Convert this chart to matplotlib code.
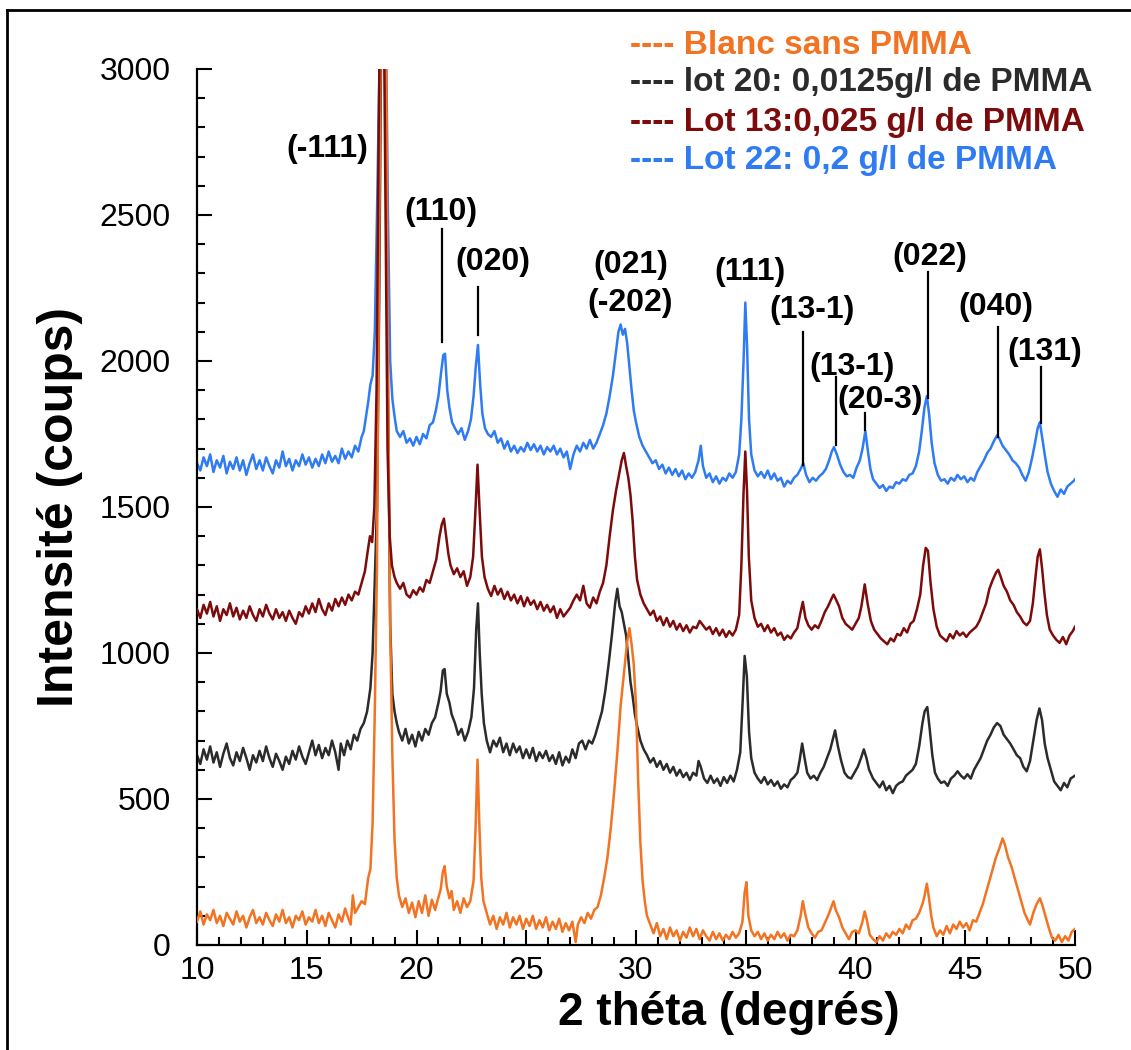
import matplotlib
matplotlib.use('Agg')
import matplotlib.pyplot as plt
from matplotlib.lines import Line2D
from matplotlib.ticker import MultipleLocator

plt.rcParams['font.family'] = ['Liberation Sans', 'DejaVu Sans']

# ---------------- data ----------------
series_labels = ["---- Blanc sans PMMA",
                 "---- lot 20: 0,0125g/l de PMMA",
                 "---- Lot 13:0,025 g/l de PMMA",
                 "---- Lot 22: 0,2 g/l de PMMA"]

blanc_pts = [
    (10.0, 80), (10.15, 115), (10.3, 70), (10.45, 105), (10.6, 85), (10.75, 120), (10.9, 75), (11.05, 100),
    (11.2, 65), (11.35, 110), (11.5, 90), (11.65, 70), (11.8, 115), (11.95, 80), (12.1, 100), (12.25, 60),
    (12.4, 95), (12.55, 120), (12.7, 75), (12.85, 95), (13.0, 70), (13.15, 110), (13.3, 85), (13.45, 65),
    (13.6, 105), (13.75, 80), (13.9, 120), (14.05, 75), (14.2, 95), (14.35, 60), (14.5, 100), (14.65, 85),
    (14.8, 115), (14.95, 70), (15.1, 95), (15.25, 80), (15.4, 120), (15.55, 75), (15.7, 100), (15.85, 65),
    (16.0, 110), (16.15, 85), (16.3, 60), (16.45, 105), (16.6, 80), (16.75, 125), (16.9, 90), (17.0, 70),
    (17.1, 170), (17.2, 110), (17.35, 130), (17.5, 150), (17.65, 140), (17.8, 230), (17.9, 260), (18.0, 420),
    (18.1, 800), (18.2, 1300), (18.3, 2400), (18.4, 3400), (18.5, 3800), (18.6, 3300), (18.7, 2000),
    (18.8, 1100), (18.9, 650), (19.0, 360), (19.1, 230), (19.2, 170), (19.35, 130), (19.5, 160), (19.65, 110),
    (19.8, 145), (19.95, 95), (20.1, 150), (20.25, 110), (20.4, 170), (20.55, 100), (20.7, 155), (20.85, 120),
    (20.95, 150), (21.1, 190), (21.2, 250), (21.28, 270), (21.38, 200), (21.5, 160), (21.6, 185), (21.7, 120),
    (21.85, 150), (22.0, 110), (22.15, 160), (22.3, 130), (22.45, 150), (22.6, 220), (22.7, 420), (22.78, 635),
    (22.86, 420), (22.95, 230), (23.05, 150), (23.2, 110), (23.35, 70), (23.5, 100), (23.65, 55), (23.8, 95),
    (23.95, 70), (24.1, 110), (24.25, 60), (24.4, 95), (24.55, 70), (24.7, 100), (24.85, 55), (25.0, 90),
    (25.15, 65), (25.3, 100), (25.45, 55), (25.6, 85), (25.75, 60), (25.9, 95), (26.05, 50), (26.2, 80),
    (26.35, 55), (26.5, 90), (26.65, 45), (26.8, 75), (26.95, 50), (27.1, 80), (27.25, 10), (27.35, 70),
    (27.5, 95), (27.65, 75), (27.8, 110), (27.95, 90), (28.1, 120), (28.25, 130), (28.4, 170), (28.55, 230),
    (28.7, 300), (28.85, 400), (29.0, 520), (29.15, 660), (29.3, 820), (29.45, 930), (29.6, 1040), (29.7, 1085),
    (29.8, 1030), (29.9, 960), (30.0, 820), (30.1, 560), (30.2, 350), (30.3, 220), (30.4, 150), (30.5, 100),
    (30.65, 70), (30.8, 40), (30.95, 75), (31.1, 30), (31.25, 55), (31.4, 20), (31.55, 60), (31.7, 30),
    (31.85, 50), (32.0, 15), (32.15, 45), (32.3, 25), (32.45, 60), (32.6, 30), (32.75, 55), (32.9, 20),
    (33.05, 50), (33.2, 30), (33.35, 15), (33.5, 45), (33.65, 20), (33.8, 40), (33.95, 15), (34.1, 35),
    (34.25, 20), (34.4, 45), (34.55, 25), (34.7, 40), (34.85, 80), (34.95, 180), (35.03, 215), (35.12, 100),
    (35.25, 50), (35.4, 30), (35.55, 45), (35.7, 20), (35.85, 40), (36.0, 15), (36.15, 35), (36.3, 20),
    (36.45, 45), (36.6, 25), (36.75, 40), (36.9, 15), (37.05, 35), (37.2, 30), (37.35, 50), (37.5, 100),
    (37.6, 150), (37.7, 110), (37.85, 60), (38.0, 40), (38.15, 25), (38.3, 45), (38.45, 50), (38.6, 75),
    (38.75, 100), (38.9, 130), (39.0, 150), (39.1, 120), (39.25, 95), (39.4, 60), (39.55, 40), (39.7, 20),
    (39.85, 45), (40.0, 50), (40.15, 40), (40.3, 75), (40.42, 115), (40.52, 85), (40.65, 35), (40.8, 20),
    (40.95, 10), (41.1, 30), (41.25, 15), (41.4, 40), (41.55, 25), (41.7, 45), (41.85, 35), (42.0, 55),
    (42.15, 40), (42.3, 70), (42.45, 55), (42.6, 85), (42.75, 90), (42.9, 110), (43.05, 140), (43.15, 170),
    (43.25, 210), (43.35, 160), (43.45, 100), (43.55, 60), (43.7, 30), (43.85, 50), (44.0, 35), (44.15, 65),
    (44.3, 40), (44.45, 70), (44.6, 55), (44.75, 80), (44.9, 60), (45.05, 75), (45.2, 50), (45.35, 85),
    (45.5, 80), (45.65, 110), (45.8, 140), (45.95, 180), (46.1, 220), (46.25, 260), (46.4, 300), (46.55, 330),
    (46.7, 365), (46.8, 345), (46.95, 300), (47.1, 270), (47.25, 230), (47.4, 190), (47.55, 150), (47.7, 110),
    (47.85, 85), (47.95, 70), (48.1, 110), (48.25, 140), (48.4, 160), (48.5, 140), (48.65, 100), (48.8, 60),
    (48.95, 25), (49.1, 15), (49.25, 35), (49.4, 10), (49.55, 30), (49.7, 15), (49.85, 45), (50.0, 55),
]

lot20_pts = [
    (10.0, 650), (10.15, 620), (10.3, 670), (10.45, 635), (10.6, 680), (10.75, 625), (10.9, 660), (11.05, 610),
    (11.2, 655), (11.35, 690), (11.5, 640), (11.65, 615), (11.8, 660), (11.95, 630), (12.1, 675), (12.25, 640),
    (12.4, 600), (12.55, 650), (12.7, 625), (12.85, 665), (13.0, 630), (13.15, 680), (13.3, 640), (13.45, 610),
    (13.6, 655), (13.75, 630), (13.9, 600), (14.05, 645), (14.2, 620), (14.35, 665), (14.5, 635), (14.65, 680),
    (14.8, 645), (14.95, 620), (15.1, 660), (15.25, 700), (15.4, 650), (15.55, 685), (15.7, 640), (15.85, 675),
    (16.0, 650), (16.15, 700), (16.3, 660), (16.45, 600), (16.55, 690), (16.7, 650), (16.85, 700), (17.0, 670),
    (17.15, 720), (17.3, 700), (17.45, 740), (17.6, 760), (17.75, 800), (17.9, 880), (18.0, 1000), (18.1, 1250),
    (18.2, 1500), (18.3, 2200), (18.4, 3200), (18.5, 3600), (18.6, 3000), (18.7, 1900), (18.8, 1100),
    (18.9, 860), (19.0, 800), (19.1, 760), (19.2, 730), (19.35, 700), (19.5, 740), (19.65, 690), (19.8, 720),
    (19.95, 680), (20.1, 730), (20.25, 700), (20.4, 740), (20.55, 720), (20.7, 760), (20.85, 780), (21.0, 830),
    (21.1, 870), (21.2, 940), (21.28, 945), (21.38, 860), (21.5, 830), (21.6, 790), (21.75, 760), (21.9, 720),
    (22.05, 740), (22.2, 700), (22.35, 730), (22.5, 780), (22.62, 880), (22.72, 1080), (22.8, 1170),
    (22.88, 1000), (22.97, 860), (23.07, 760), (23.2, 700), (23.35, 660), (23.5, 700), (23.65, 680),
    (23.8, 710), (23.95, 660), (24.1, 690), (24.25, 650), (24.4, 690), (24.55, 660), (24.7, 680), (24.85, 640),
    (25.0, 670), (25.15, 640), (25.3, 675), (25.45, 630), (25.6, 660), (25.75, 640), (25.9, 665), (26.05, 630),
    (26.2, 650), (26.35, 620), (26.5, 660), (26.65, 615), (26.8, 645), (26.95, 625), (27.1, 670), (27.25, 640),
    (27.4, 690), (27.55, 700), (27.7, 670), (27.85, 700), (28.0, 690), (28.15, 720), (28.3, 760), (28.45, 800),
    (28.6, 870), (28.75, 960), (28.9, 1060), (29.05, 1170), (29.15, 1220), (29.25, 1160), (29.35, 1140),
    (29.45, 1100), (29.55, 1060), (29.65, 980), (29.75, 900), (29.85, 850), (29.95, 790), (30.05, 750),
    (30.2, 700), (30.35, 670), (30.5, 650), (30.65, 625), (30.8, 640), (30.95, 610), (31.1, 630), (31.25, 600),
    (31.4, 620), (31.55, 590), (31.7, 610), (31.85, 580), (32.0, 600), (32.15, 575), (32.3, 590), (32.45, 565),
    (32.6, 590), (32.75, 580), (32.85, 630), (32.95, 610), (33.1, 570), (33.25, 555), (33.4, 580), (33.55, 555),
    (33.7, 570), (33.85, 545), (34.0, 575), (34.15, 555), (34.3, 580), (34.45, 560), (34.6, 600), (34.75, 660),
    (34.85, 820), (34.95, 990), (35.05, 920), (35.15, 730), (35.25, 640), (35.4, 590), (35.55, 570),
    (35.7, 555), (35.85, 575), (36.0, 550), (36.15, 565), (36.3, 545), (36.45, 560), (36.6, 535), (36.75, 550),
    (36.9, 540), (37.05, 565), (37.2, 575), (37.35, 590), (37.45, 630), (37.57, 690), (37.68, 640), (37.8, 590),
    (37.95, 570), (38.1, 580), (38.25, 565), (38.4, 590), (38.55, 610), (38.7, 640), (38.85, 670), (38.95, 700),
    (39.07, 735), (39.2, 680), (39.35, 630), (39.5, 590), (39.65, 575), (39.8, 570), (39.95, 590), (40.1, 610),
    (40.25, 640), (40.38, 670), (40.5, 640), (40.62, 600), (40.8, 570), (40.95, 555), (41.1, 540), (41.25, 560),
    (41.4, 530), (41.55, 545), (41.7, 520), (41.85, 545), (42.0, 555), (42.15, 560), (42.3, 580), (42.45, 590),
    (42.6, 600), (42.75, 620), (42.9, 680), (43.05, 760), (43.15, 800), (43.27, 815), (43.38, 740), (43.5, 650),
    (43.62, 590), (43.75, 570), (43.9, 555), (44.05, 560), (44.2, 545), (44.35, 570), (44.5, 580), (44.65, 595),
    (44.8, 580), (44.95, 570), (45.1, 585), (45.25, 570), (45.4, 600), (45.55, 620), (45.7, 640), (45.85, 670),
    (46.0, 700), (46.15, 720), (46.3, 745), (46.45, 760), (46.6, 750), (46.75, 720), (46.9, 705), (47.05, 690),
    (47.2, 670), (47.35, 650), (47.5, 640), (47.65, 610), (47.8, 595), (47.95, 630), (48.1, 700), (48.25, 770),
    (48.38, 810), (48.5, 770), (48.62, 690), (48.75, 640), (48.9, 600), (49.05, 560), (49.2, 545), (49.35, 530),
    (49.5, 555), (49.65, 540), (49.8, 570), (50.0, 580),
]

lot13_pts = [
    (10.0, 1150), (10.15, 1120), (10.3, 1165), (10.45, 1135), (10.6, 1175), (10.75, 1125), (10.9, 1160),
    (11.05, 1110), (11.2, 1150), (11.35, 1130), (11.5, 1170), (11.65, 1125), (11.8, 1155), (11.95, 1115),
    (12.1, 1145), (12.25, 1120), (12.4, 1160), (12.55, 1130), (12.7, 1110), (12.85, 1150), (13.0, 1125),
    (13.15, 1165), (13.3, 1135), (13.45, 1115), (13.6, 1150), (13.75, 1120), (13.9, 1140), (14.05, 1110),
    (14.2, 1145), (14.35, 1120), (14.5, 1100), (14.65, 1140), (14.8, 1125), (14.95, 1160), (15.1, 1135),
    (15.25, 1170), (15.4, 1140), (15.55, 1185), (15.7, 1150), (15.85, 1130), (16.0, 1170), (16.15, 1145),
    (16.3, 1185), (16.45, 1160), (16.6, 1190), (16.75, 1165), (16.9, 1200), (17.05, 1180), (17.2, 1210),
    (17.35, 1200), (17.5, 1240), (17.65, 1280), (17.78, 1350), (17.88, 1400), (17.98, 1380), (18.08, 1500),
    (18.18, 1900), (18.28, 2800), (18.38, 3500), (18.48, 3500), (18.58, 2600), (18.68, 1700), (18.78, 1400),
    (18.88, 1300), (19.0, 1260), (19.1, 1240), (19.25, 1220), (19.4, 1240), (19.55, 1200), (19.7, 1190),
    (19.85, 1215), (20.0, 1200), (20.15, 1225), (20.3, 1210), (20.45, 1250), (20.6, 1240), (20.75, 1280),
    (20.9, 1320), (21.05, 1400), (21.15, 1440), (21.25, 1460), (21.35, 1400), (21.45, 1340), (21.55, 1300),
    (21.7, 1270), (21.85, 1290), (22.0, 1260), (22.15, 1280), (22.3, 1230), (22.45, 1260), (22.58, 1330),
    (22.68, 1480), (22.78, 1645), (22.88, 1480), (22.98, 1330), (23.1, 1260), (23.25, 1220), (23.4, 1195),
    (23.55, 1230), (23.7, 1200), (23.85, 1220), (24.0, 1185), (24.15, 1210), (24.3, 1180), (24.45, 1200),
    (24.6, 1170), (24.75, 1195), (24.9, 1160), (25.05, 1190), (25.2, 1165), (25.35, 1180), (25.5, 1150),
    (25.65, 1175), (25.8, 1145), (25.95, 1165), (26.1, 1140), (26.25, 1160), (26.4, 1120), (26.55, 1150),
    (26.7, 1125), (26.85, 1140), (27.0, 1155), (27.15, 1180), (27.3, 1200), (27.45, 1180), (27.6, 1230),
    (27.75, 1170), (27.9, 1155), (28.05, 1190), (28.2, 1170), (28.35, 1210), (28.5, 1240), (28.65, 1300),
    (28.8, 1400), (28.95, 1490), (29.1, 1560), (29.25, 1620), (29.35, 1660), (29.45, 1685), (29.55, 1640),
    (29.65, 1600), (29.75, 1540), (29.85, 1450), (29.95, 1330), (30.05, 1250), (30.2, 1200), (30.35, 1170),
    (30.5, 1150), (30.65, 1130), (30.8, 1145), (30.95, 1110), (31.1, 1125), (31.25, 1095), (31.4, 1120),
    (31.55, 1090), (31.7, 1110), (31.85, 1080), (32.0, 1100), (32.15, 1075), (32.3, 1095), (32.45, 1070),
    (32.6, 1090), (32.75, 1085), (32.9, 1110), (33.05, 1095), (33.2, 1080), (33.35, 1090), (33.5, 1065),
    (33.65, 1085), (33.8, 1060), (33.95, 1080), (34.1, 1055), (34.25, 1075), (34.4, 1060), (34.55, 1080),
    (34.7, 1130), (34.8, 1300), (34.9, 1550), (34.98, 1690), (35.06, 1550), (35.14, 1330), (35.25, 1180),
    (35.4, 1120), (35.55, 1090), (35.7, 1100), (35.85, 1075), (36.0, 1095), (36.15, 1070), (36.3, 1085),
    (36.45, 1060), (36.6, 1070), (36.75, 1045), (36.9, 1060), (37.05, 1050), (37.2, 1070), (37.35, 1085),
    (37.47, 1130), (37.6, 1175), (37.72, 1120), (37.85, 1095), (38.0, 1080), (38.15, 1095), (38.3, 1085),
    (38.45, 1110), (38.6, 1140), (38.75, 1160), (38.9, 1185), (39.0, 1200), (39.1, 1185), (39.25, 1160),
    (39.4, 1120), (39.55, 1100), (39.7, 1090), (39.85, 1080), (40.0, 1100), (40.15, 1120), (40.27, 1160),
    (40.42, 1235), (40.55, 1170), (40.7, 1110), (40.85, 1080), (41.0, 1065), (41.15, 1050), (41.3, 1040),
    (41.45, 1030), (41.6, 1050), (41.75, 1040), (41.9, 1065), (42.05, 1060), (42.2, 1085), (42.35, 1070),
    (42.5, 1100), (42.65, 1110), (42.8, 1150), (42.95, 1200), (43.08, 1300), (43.2, 1360), (43.3, 1350),
    (43.42, 1240), (43.55, 1150), (43.7, 1090), (43.85, 1060), (44.0, 1050), (44.15, 1040), (44.3, 1065),
    (44.45, 1050), (44.6, 1075), (44.75, 1060), (44.9, 1070), (45.05, 1055), (45.2, 1070), (45.35, 1080),
    (45.5, 1090), (45.65, 1110), (45.8, 1140), (45.95, 1170), (46.1, 1220), (46.25, 1250), (46.4, 1275),
    (46.5, 1285), (46.62, 1260), (46.75, 1230), (46.9, 1210), (47.05, 1180), (47.2, 1165), (47.35, 1140),
    (47.5, 1125), (47.65, 1105), (47.8, 1095), (47.95, 1110), (48.08, 1170), (48.2, 1260), (48.3, 1330),
    (48.4, 1355), (48.5, 1290), (48.6, 1210), (48.72, 1130), (48.85, 1080), (49.0, 1060), (49.15, 1045),
    (49.3, 1035), (49.45, 1055), (49.6, 1030), (49.75, 1060), (49.9, 1075), (50.0, 1090),
]

lot22_pts = [
    (10.0, 1650), (10.15, 1625), (10.3, 1670), (10.45, 1640), (10.6, 1680), (10.75, 1620), (10.9, 1660),
    (11.05, 1635), (11.2, 1675), (11.35, 1615), (11.5, 1655), (11.65, 1630), (11.8, 1670), (11.95, 1625),
    (12.1, 1660), (12.25, 1610), (12.4, 1650), (12.55, 1680), (12.7, 1630), (12.85, 1660), (13.0, 1625),
    (13.15, 1670), (13.3, 1640), (13.45, 1615), (13.6, 1660), (13.75, 1635), (13.9, 1690), (14.05, 1640),
    (14.2, 1665), (14.35, 1625), (14.5, 1660), (14.65, 1640), (14.8, 1680), (14.95, 1645), (15.1, 1670),
    (15.25, 1635), (15.4, 1665), (15.55, 1640), (15.7, 1680), (15.85, 1650), (16.0, 1690), (16.15, 1655),
    (16.3, 1675), (16.45, 1650), (16.6, 1700), (16.75, 1665), (16.9, 1690), (17.05, 1670), (17.2, 1710),
    (17.35, 1690), (17.5, 1740), (17.6, 1760), (17.7, 1810), (17.8, 1860), (17.9, 1920), (18.0, 1950),
    (18.1, 2100), (18.2, 2500), (18.3, 2950), (18.4, 3500), (18.5, 3700), (18.6, 3200), (18.7, 2500),
    (18.8, 2000), (18.9, 1870), (19.0, 1810), (19.1, 1760), (19.25, 1740), (19.4, 1760), (19.55, 1720),
    (19.7, 1735), (19.85, 1710), (20.0, 1740), (20.15, 1715), (20.3, 1750), (20.45, 1735), (20.6, 1780),
    (20.75, 1790), (20.88, 1830), (21.0, 1880), (21.12, 1960), (21.22, 2020), (21.3, 2025), (21.4, 1900),
    (21.5, 1840), (21.62, 1790), (21.75, 1770), (21.9, 1750), (22.05, 1770), (22.2, 1730), (22.35, 1760),
    (22.48, 1800), (22.6, 1880), (22.7, 1980), (22.8, 2055), (22.9, 1920), (23.0, 1820), (23.12, 1770),
    (23.25, 1750), (23.4, 1740), (23.55, 1760), (23.7, 1720), (23.85, 1735), (24.0, 1700), (24.15, 1725),
    (24.3, 1690), (24.45, 1710), (24.6, 1685), (24.75, 1705), (24.9, 1690), (25.05, 1720), (25.2, 1695),
    (25.35, 1715), (25.5, 1690), (25.65, 1710), (25.8, 1680), (25.95, 1705), (26.1, 1690), (26.25, 1710),
    (26.4, 1680), (26.55, 1700), (26.7, 1670), (26.85, 1690), (27.0, 1630), (27.15, 1680), (27.3, 1710),
    (27.45, 1690), (27.6, 1720), (27.75, 1700), (27.9, 1730), (28.05, 1700), (28.2, 1720), (28.35, 1750),
    (28.5, 1780), (28.65, 1820), (28.8, 1880), (28.95, 1950), (29.1, 2040), (29.2, 2100), (29.3, 2125),
    (29.4, 2090), (29.5, 2110), (29.6, 2060), (29.7, 1980), (29.8, 1900), (29.9, 1830), (30.0, 1790),
    (30.15, 1740), (30.3, 1710), (30.45, 1690), (30.6, 1670), (30.75, 1650), (30.9, 1660), (31.05, 1630),
    (31.2, 1645), (31.35, 1615), (31.5, 1635), (31.65, 1610), (31.8, 1630), (31.95, 1605), (32.1, 1625),
    (32.25, 1595), (32.4, 1615), (32.55, 1600), (32.7, 1620), (32.85, 1660), (32.95, 1710), (33.05, 1640),
    (33.2, 1600), (33.35, 1615), (33.5, 1585), (33.65, 1605), (33.8, 1580), (33.95, 1600), (34.1, 1590),
    (34.25, 1615), (34.4, 1600), (34.55, 1620), (34.7, 1680), (34.8, 1800), (34.9, 2000), (34.98, 2200),
    (35.06, 2050), (35.15, 1800), (35.25, 1680), (35.4, 1625), (35.55, 1605), (35.7, 1620), (35.85, 1600),
    (36.0, 1625), (36.15, 1595), (36.3, 1615), (36.45, 1590), (36.6, 1600), (36.75, 1570), (36.9, 1590),
    (37.05, 1580), (37.2, 1600), (37.35, 1610), (37.5, 1630), (37.62, 1650), (37.75, 1610), (37.9, 1585),
    (38.05, 1600), (38.2, 1590), (38.35, 1605), (38.5, 1615), (38.65, 1630), (38.8, 1660), (38.92, 1690),
    (39.02, 1705), (39.15, 1680), (39.3, 1645), (39.45, 1620), (39.6, 1605), (39.75, 1610), (39.9, 1600),
    (40.05, 1635), (40.2, 1660), (40.32, 1700), (40.45, 1760), (40.55, 1700), (40.68, 1630), (40.8, 1595),
    (40.95, 1580), (41.1, 1565), (41.25, 1575), (41.4, 1555), (41.55, 1570), (41.7, 1565), (41.85, 1585),
    (42.0, 1580), (42.15, 1595), (42.3, 1590), (42.45, 1610), (42.6, 1615), (42.75, 1640), (42.9, 1690),
    (43.02, 1760), (43.14, 1840), (43.25, 1880), (43.35, 1820), (43.47, 1720), (43.6, 1650), (43.75, 1610),
    (43.9, 1590), (44.05, 1595), (44.2, 1580), (44.35, 1600), (44.5, 1590), (44.65, 1610), (44.8, 1595),
    (44.95, 1605), (45.1, 1585), (45.25, 1600), (45.4, 1590), (45.55, 1620), (45.7, 1640), (45.85, 1660),
    (46.0, 1685), (46.15, 1700), (46.3, 1725), (46.45, 1745), (46.55, 1735), (46.7, 1710), (46.85, 1695),
    (47.0, 1680), (47.15, 1660), (47.3, 1650), (47.45, 1635), (47.6, 1610), (47.75, 1590), (47.9, 1620),
    (48.05, 1670), (48.18, 1720), (48.3, 1770), (48.4, 1790), (48.5, 1740), (48.62, 1680), (48.75, 1620),
    (48.9, 1580), (49.05, 1555), (49.2, 1535), (49.35, 1560), (49.5, 1545), (49.65, 1570), (49.8, 1580),
    (49.95, 1590), (50.0, 1595),
]

# annotations: label, text x, text y, marker line x, line y0, line y1 (None = no line)
peak_labels = ["(-111)", "(110)", "(020)", "(021)", "(-202)", "(111)", "(13-1)", "(13-1)",
               "(20-3)", "(022)", "(040)", "(131)"]
label_x = [15.95, 21.1, 23.5, 29.75, 29.75, 35.2, 38.0, 39.85, 41.1, 43.4, 46.4, 48.6]
label_y = [2725, 2510, 2340, 2330, 2200, 2305, 2175, 1980, 1866, 2356, 2185, 2031]
line_x = [None, 21.15, 22.8, None, None, None, 37.6, 39.1, 40.44, 43.3, 46.5, 48.43]
line_y0 = [None, 2065, 2089, None, None, None, 1644, 1712, 1764, 1873, 1740, 1788]
line_y1 = [None, 2452, 2253, None, None, None, 2099, 1945, 1822, 2305, 2116, 1979]

x_ticks = [10, 15, 20, 25, 30, 35, 40, 45, 50]
y_ticks = [0, 500, 1000, 1500, 2000, 2500, 3000]

# ---------------- styling ----------------
colors = ['#F27321', '#2B2B2B', '#7E0B0B', '#2F7BF3']
W, H = 1131, 1050
fig = plt.figure(figsize=(W / 100, H / 100), dpi=100)
ax = fig.add_axes([197 / W, 1 - 945 / H, (1075 - 197) / W, (945 - 69) / H])

series = [blanc_pts, lot20_pts, lot13_pts, lot22_pts]
zorders = [3, 2, 4, 1]
for pts, c, z in zip(series, colors, zorders):
    xs = [p[0] for p in pts]
    ys = [p[1] for p in pts]
    ax.plot(xs, ys, color=c, lw=1.8, zorder=z)

ax.set_xlim(10, 50)
ax.set_ylim(0, 3000)
ax.set_xticks(x_ticks)
ax.set_yticks(y_ticks)
ax.xaxis.set_minor_locator(MultipleLocator(1))
ax.yaxis.set_minor_locator(MultipleLocator(100))
for s in ['top', 'right']:
    ax.spines[s].set_visible(False)
for s in ['left', 'bottom']:
    ax.spines[s].set_linewidth(1.6)
ax.tick_params(which='major', direction='in', length=11, width=1.5, labelsize=23)
ax.tick_params(which='minor', direction='in', length=6, width=1.5)
ax.tick_params(axis='y', which='major', pad=19)
ax.tick_params(axis='x', which='major', pad=8)

for lab, tx, ty, lx, y0, y1 in zip(peak_labels, label_x, label_y, line_x, line_y0, line_y1):
    ax.text(tx, ty, lab, ha='center', va='center', fontsize=23, fontweight='bold',
            color='black', zorder=6)
    if lx is not None:
        ax.plot([lx, lx], [y0, y1], color='black', lw=1.6, zorder=6)

fig.text(729 / W, 1 - 1013 / H, "2 théta (degrés)", ha='center', va='center',
         fontsize=33, fontweight='bold')
fig.text(60 / W, 1 - 507 / H, "Intensité (coups)", ha='center', va='center',
         rotation=90, fontsize=36, fontweight='bold')

legend_y = [45, 83, 122, 160]
for lab, c, yy in zip(series_labels, colors, legend_y):
    fig.text(630 / W, 1 - yy / H, lab, ha='left', va='center', fontsize=24,
             fontweight='bold', color=c)

# outer frame (top and left)
fig.add_artist(Line2D([7 / W, 1], [1 - 10 / H, 1 - 10 / H], color='black', lw=2,
                      transform=fig.transFigure))
fig.add_artist(Line2D([7 / W, 7 / W], [0, 1 - 10 / H], color='black', lw=2,
                      transform=fig.transFigure))

fig.savefig('out.png', dpi=100)
